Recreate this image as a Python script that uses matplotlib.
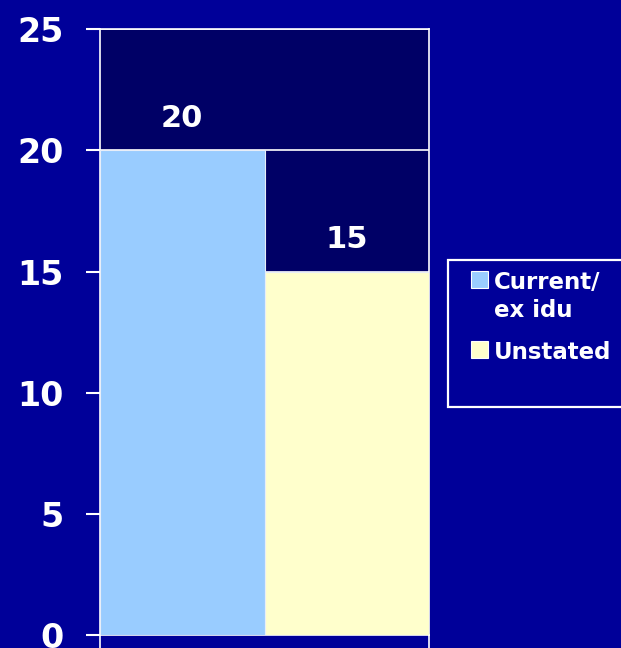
import matplotlib
matplotlib.use('Agg')
import matplotlib.pyplot as plt
from matplotlib.patches import Rectangle

# data
categories = ['Current/\nex idu', 'Unstated']
values = [20, 15]
colours = ['#99ccff', '#ffffcc']
yticks = [0, 5, 10, 15, 20, 25]

fig = plt.figure(figsize=(6.21, 6.48), dpi=100, facecolor='#000099')
ax = fig.add_axes([0.161, 0.020, 0.530, 0.935], facecolor='#000066')

# bars fill the whole plot width
bars = ax.bar(range(len(values)), values, width=1.0, color=colours,
              edgecolor='#e8eef8', linewidth=0.8, label=categories, zorder=3)

# value labels above the bars
for i, v in enumerate(values):
    ax.annotate(str(v), (i, v), xytext=(0, 23), textcoords='offset points',
                ha='center', va='center', color='white', fontsize=22,
                fontweight='bold', zorder=4)

ax.set_xlim(-0.5, len(values) - 0.5)
ax.set_ylim(0, 25)
ax.set_yticks(yticks)
ax.set_yticklabels([str(t) for t in yticks])
ax.yaxis.grid(True, color='white', linewidth=1.2, zorder=1)
ax.set_axisbelow(True)

ax.set_xticks([-0.5, len(values) - 0.5])
ax.set_xticklabels(['', ''])
ax.tick_params(axis='x', colors='white', length=13, width=1.2, direction='out')
ax.tick_params(axis='y', colors='white', length=10, width=1.5, direction='out',
               pad=16, labelsize=24)
for lab in ax.get_yticklabels():
    lab.set_fontweight('bold')

for s in ax.spines.values():
    s.set_color('white')
    s.set_linewidth(1.2)

# legend box drawn separately (it runs off the right edge)
box = Rectangle((448 / 621, 1 - 407 / 648), 0.3, 147 / 648,
                transform=fig.transFigure, facecolor='#000099',
                edgecolor='white', linewidth=1.6, zorder=0)
fig.patches.append(box)

leg = fig.legend(handles=bars, labels=categories, loc='upper left',
                 bbox_to_anchor=(471 / 621, 1 - 271 / 648), frameon=False,
                 prop={'weight': 'bold', 'size': 16.5}, labelcolor='white',
                 handlelength=0.75, handleheight=0.75, handletextpad=0.25,
                 borderpad=0, labelspacing=0.8, borderaxespad=0)
for t in leg.get_texts():
    t.set_linespacing(1.3)
# handles sit level with the first line of each label
for col in leg._legend_handle_box.get_children():
    for item in col.get_children():
        item.align = 'top'
for h in leg.legend_handles:
    h.set_edgecolor('white')
    h.set_linewidth(0.8)

fig.savefig('out.png', dpi=100, facecolor=fig.get_facecolor())
